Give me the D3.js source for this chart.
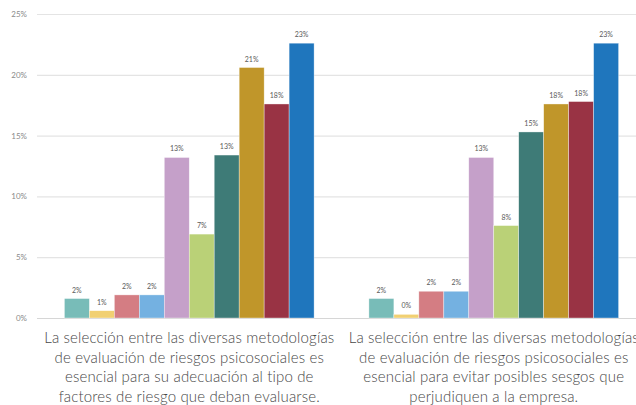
<!DOCTYPE html>
<html>
<head>
<meta charset="utf-8">
<script src="https://cdn.jsdelivr.net/npm/d3@7/dist/d3.min.js"></script>
<style>
  html, body { margin: 0; padding: 0; background: #fff; }
  svg { display: block; }
</style>
</head>
<body>
<div id="chart"></div>
<script>
// Statements being rated (two groups along the x axis)
const categories = [
  ["La selección entre las diversas metodologías", "de evaluación de riesgos psicosociales es", "esencial para su adecuación al tipo de", "factores de riesgo que deban evaluarse."],
  ["La selección entre las diversas metodologías", "de evaluación de riesgos psicosociales es", "esencial para evitar posibles sesgos que", "perjudiquen a la empresa."]
];
const categoryKeys = ["adecuacion", "sesgos"];

// Ten response series, one bar each per group
const seriesKeys = ["s1", "s2", "s3", "s4", "s5", "s6", "s7", "s8", "s9", "s10"];
const seriesColors = ["#78bcb8", "#f1d072", "#d47d83", "#74b1e1", "#c5a0c9", "#bad177", "#3e7b77", "#c0962a", "#993344", "#1f76bd"];

// Share of responses per series (fractions)
const valuesAdecuacion = [0.016, 0.006, 0.019, 0.019, 0.132, 0.069, 0.134, 0.206, 0.176, 0.226];
const valuesSesgos     = [0.016, 0.003, 0.022, 0.022, 0.132, 0.076, 0.153, 0.176, 0.178, 0.226];

const yTicks = [0, 0.05, 0.10, 0.15, 0.20, 0.25];

const width = 636, height = 405;
const svg = d3.select("#chart").append("svg")
  .attr("width", width).attr("height", height);

const y = d3.scaleLinear().domain([0, 0.25]).range([318, 14]);
const x0 = d3.scaleBand().domain(categoryKeys).range([37, 646])
  .paddingInner(0.18).paddingOuter(0.09);
const x1 = d3.scaleBand().domain(seriesKeys).range([0, x0.bandwidth()]);

const fmt = d3.format(".0%");

// Horizontal gridlines and tick labels
const yAxis = d3.axisLeft(y).tickValues(yTicks).tickFormat(fmt).tickSize(0).tickPadding(10);
const gy = svg.append("g").attr("transform", "translate(37,0)").call(yAxis);
gy.select(".domain").remove();
gy.selectAll(".tick text")
  .attr("x", -10)
  .attr("fill", "#8a8a8a")
  .style("font-family", "Lato, 'Open Sans', sans-serif")
  .style("font-size", "8px");
gy.selectAll(".tick line")
  .attr("x2", width)
  .attr("stroke", (d) => d === 0 ? "#d6d6d6" : "#e4e4e4")
  .attr("stroke-width", 1.2);

const data = [valuesAdecuacion, valuesSesgos];

const groups = svg.append("g").selectAll("g")
  .data(categoryKeys)
  .join("g")
  .attr("transform", d => `translate(${x0(d)},0)`);

groups.selectAll("rect")
  .data((d, i) => data[i].map((v, j) => ({ key: seriesKeys[j], value: v, color: seriesColors[j] })))
  .join("rect")
  .attr("x", d => x1(d.key))
  .attr("width", x1.bandwidth())
  .attr("y", d => y(d.value))
  .attr("height", d => y(0) - y(d.value))
  .attr("fill", d => d.color)
  .attr("stroke", "#ffffff")
  .attr("stroke-opacity", 0.6)
  .attr("stroke-width", 0.6);

groups.selectAll("text.val")
  .data((d, i) => data[i].map((v, j) => ({ key: seriesKeys[j], value: v })))
  .join("text")
  .attr("class", "val")
  .attr("x", d => x1(d.key) + x1.bandwidth() / 2)
  .attr("y", d => y(d.value) - 6)
  .attr("text-anchor", "middle")
  .attr("fill", "#5a5a5a")
  .style("font-family", "Lato, 'Open Sans', sans-serif")
  .style("font-size", "7px")
  .text(d => fmt(d.value));

// Category captions under each group
svg.append("g").selectAll("text")
  .data(categoryKeys)
  .join("text")
  .attr("text-anchor", "middle")
  .attr("fill", "#474747")
  .style("font-family", "Lato, 'Open Sans', sans-serif")
  .style("font-size", "15px")
  .style("font-weight", "300")
  .style("letter-spacing", "0.15px")
  .each(function (d, i) {
    const cx = x0(d) + x0.bandwidth() / 2;
    d3.select(this).selectAll("tspan")
      .data(categories[i])
      .join("tspan")
      .attr("x", cx)
      .attr("y", (t, k) => 343 + k * 19.7)
      .text(t => t);
  });
</script>
</body>
</html>
